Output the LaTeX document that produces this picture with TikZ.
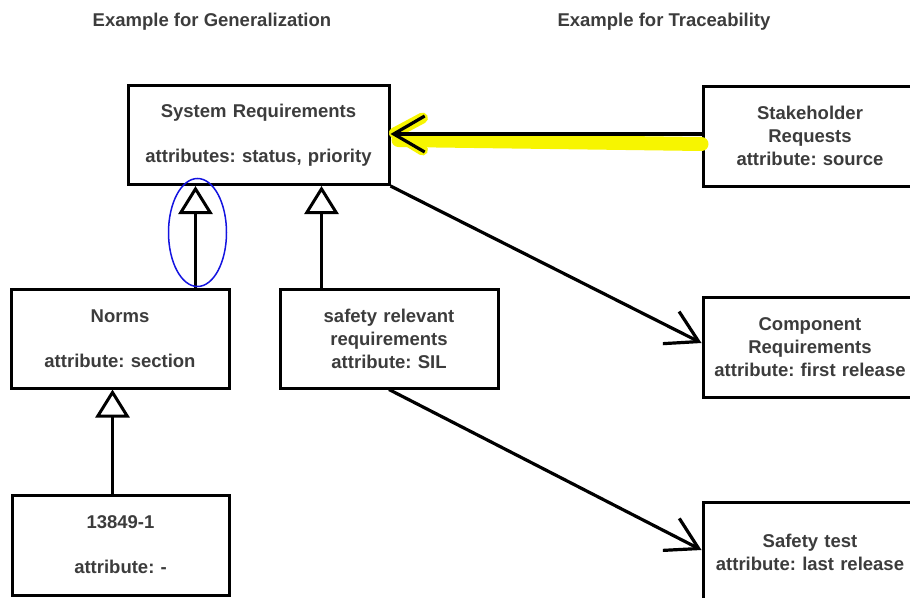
\documentclass[tikz,border=0pt]{standalone}
\usepackage{fontspec}
\setmainfont{Liberation Sans}
\usepackage{tikz}
\usetikzlibrary{positioning}
\usetikzlibrary{calc}
\usetikzlibrary{arrows.meta}
\frenchspacing
\definecolor{textgray}{HTML}{3C3C3C}
\definecolor{marker}{HTML}{F7F500}
\definecolor{pen}{HTML}{1414E0}
\tikzset{
	artifact/.style={
		draw, line width=3pt, fill=white, align=center, inner sep=0pt,
		text=textgray, text width=214pt, minimum height=99pt,
		font=\bfseries\fontsize{18.5}{23}\selectfont
	},
	heading/.style={
		text=textgray, font=\bfseries\fontsize{18.5}{23}\selectfont
	},
	generalization/.style={
		-{Triangle[open,length=28pt,width=34pt]}, line width=3pt
	},
	traces to/.style={
		-{Straight Barb[length=31pt,width=36pt]}, line width=3.2pt
	}
}

\begin{document}
\begin{tikzpicture}[x=1pt, y=-1pt]
\clip (0,0) rectangle (910,597);
\fill[white] (0,0) rectangle (910,597);

\node[heading] (gen-title) at (212,22) {Example for Generalization};
\node[heading] (trace-title) at (664,22) {Example for Traceability};

%left side: generalization
\node[artifact, text width=261pt] (SystemRequirements) at (258.5,135)
	{System Requirements\\[22pt]attributes: status, priority};
\node[artifact, text width=218pt] (Norms) at (120,338.5)
	{Norms\\[22pt]attribute: section};
\node[artifact, text width=218pt] (SafetyRelevant) at (389,338.5)
	{safety relevant\\requirements\\attribute: SIL};
\node[artifact, text width=217pt, minimum height=100pt] (Norm13849) at (120.5,545)
	{13849-1\\[22pt]attribute: -};

%right side: traceability
\node[artifact, minimum height=100pt] (StakeholderRequests) at (810,136)
	{Stakeholder\\Requests\\attribute: source};
\node[artifact, minimum height=100pt] (ComponentRequirements) at (810,347)
	{Component\\Requirements\\attribute: first release};
\node[artifact, minimum height=100pt] (SafetyTest) at (810,552)
	{Safety test\\attribute: last release};

%highlighter
\draw[marker, line width=14pt, line cap=round] ($(SystemRequirements.east)+(8,5)$) -- ($(StakeholderRequests.west)+(0,8)$);
\draw[marker, line width=11pt, line cap=round] ($(SystemRequirements.east)+(4,-2)$) -- ++(28,-15);
\draw[marker, line width=11pt, line cap=round] ($(SystemRequirements.east)+(4,-2)$) -- ++(28,17);

\draw[generalization] ([xshift=-35pt]Norms.north east) -- ([xshift=-35pt]Norms.north east |- SystemRequirements.south);
\draw[generalization] ([xshift=43pt]SafetyRelevant.north west) -- ([xshift=43pt]SafetyRelevant.north west |- SystemRequirements.south);
\draw[generalization] ([xshift=-8pt]Norm13849.north) -- ([xshift=-8pt]Norm13849.north |- Norms.south);

\draw[traces to] ([yshift=2pt]StakeholderRequests.west) -- ([yshift=2pt]StakeholderRequests.west -| SystemRequirements.east);
\draw[traces to] (SystemRequirements.south east) -- ([yshift=4pt]ComponentRequirements.west);
\draw[traces to] (SafetyRelevant.south) -- ([yshift=2pt]SafetyTest.west);

%pen mark
\draw[pen, line width=1.5pt] ($(Norms.north east)+(-33,-55)$) ellipse [x radius=29, y radius=54];
\end{tikzpicture}
\end{document}
